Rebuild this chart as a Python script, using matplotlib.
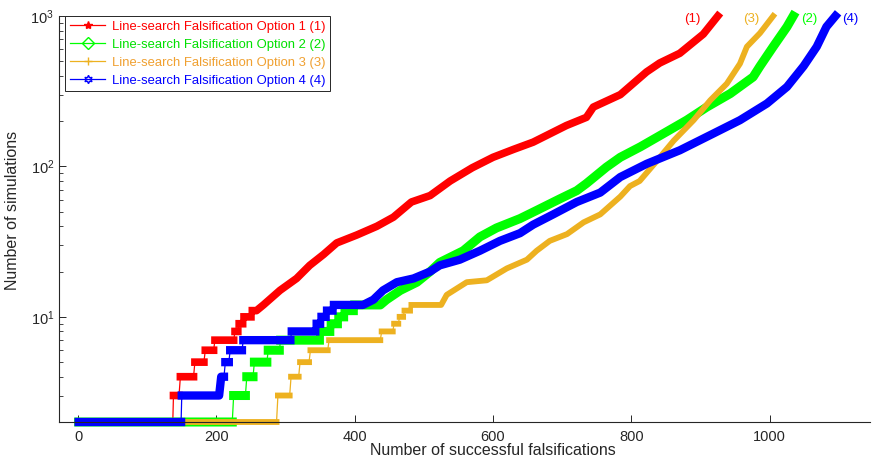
import numpy as np
import matplotlib
matplotlib.use('Agg')
import matplotlib.pyplot as plt
from matplotlib.lines import Line2D

plt.rcParams['font.family'] = ['Liberation Sans', 'DejaVu Sans']
plt.rcParams['mathtext.fontset'] = 'custom'
plt.rcParams['mathtext.rm'] = 'Liberation Sans'
plt.rcParams['mathtext.it'] = 'Liberation Sans:italic'

## data: (number of falsifications, number of simulations)
## low part given as start/end of each flat run, upper part as knots
x_opt1 = [1, 137, 138, 146, 148, 167, 169, 182, 184, 196, 198, 225, 227, 231, 233, 238, 240, 250, 252, 258,
          268, 292, 316, 335, 355, 374, 403, 432, 456, 482, 509, 538, 570, 600, 630, 658, 706, 735, 745,
          784, 822, 841, 870, 904, 925]
y_opt1 = [2, 2, 3, 3, 4, 4, 5, 5, 6, 6, 7, 7, 8, 8, 9, 9, 10, 10, 11, 11,
          12, 15, 18, 22, 26, 31, 35, 40, 46, 58, 64, 80, 98, 115, 130, 145, 187, 212, 248,
          300, 425, 487, 565, 758, 1000]

x_opt2 = [1, 223, 225, 242, 244, 253, 255, 273, 275, 291, 293, 349, 351, 364, 366, 375, 377, 384, 386, 398,
          400, 437, 446, 466, 490, 509, 523, 557, 581, 605, 639, 663, 697, 721, 735, 764, 784, 813, 846,
          880, 909, 943, 976, 986, 1005, 1025, 1034]
y_opt2 = [2, 2, 3, 3, 4, 4, 5, 5, 6, 6, 7, 7, 8, 8, 9, 9, 10, 10, 11, 11,
          12, 12, 13, 15, 17, 20, 23, 27.5, 34, 39, 45, 51, 61, 69, 77, 99, 115, 135, 165,
          203, 248, 305, 393, 464, 625, 848, 1000]

x_opt3 = [1, 287, 289, 306, 308, 319, 321, 334, 336, 361, 363, 437, 439, 455, 457, 463, 465, 470, 472, 480,
          482, 525, 533, 562, 591, 620, 649, 663, 682, 707, 731, 755, 784, 798, 812, 837, 861, 890,
          914, 938, 957, 967, 986, 1005]
y_opt3 = [2, 2, 3, 3, 4, 4, 5, 5, 6, 6, 7, 7, 8, 8, 9, 9, 10, 10, 11, 11,
          12, 12, 14, 17, 17.5, 21, 24, 27.5, 32, 35.5, 42.5, 48, 63, 74, 80, 109, 148, 203,
          275, 355, 482, 625, 770, 1000]

x_opt4 = [1, 149, 150, 204, 207, 211, 213, 218, 220, 237, 239, 307, 309, 343, 345, 350, 352, 358, 360, 368,
          370, 412, 427, 441, 461, 485, 509, 523, 552, 581, 610, 639, 658, 687, 721, 755, 784, 822,
          870, 918, 957, 996, 1025, 1049, 1068, 1082, 1095]
y_opt4 = [2, 2, 3, 3, 4, 4, 5, 5, 6, 6, 7, 7, 8, 8, 9, 9, 10, 10, 11, 11,
          12, 12, 13, 15, 17, 18, 20, 22, 24, 27.5, 32, 36, 41, 48, 58, 67, 85, 104,
          128, 165, 203, 262, 338, 464, 625, 848, 1000]

labels = ['Line-search Falsification Option 1 (1)', 'Line-search Falsification Option 2 (2)',
          'Line-search Falsification Option 3 (3)', 'Line-search Falsification Option 4 (4)']
tags = ['(1)', '(2)', '(3)', '(4)']
tag_x = [888, 1057, 974, 1116]

colors = ['#FF0000', '#00FF00', '#EDB120', '#0000FF']
text_colors = ['#FF0000', '#00E000', '#F0A030', '#0000FF']
markers = ['*', 'D', '+', (6, 1, 0)]
widths = [5.5, 6.5, 4.2, 6.0]

series = [(x_opt1, y_opt1), (x_opt2, y_opt2), (x_opt3, y_opt3), (x_opt4, y_opt4)]


def band(x, y):
    # thick part only along the flat / sloped stretches, not the jumps
    bx, by = [x[0]], [y[0]]
    for i in range(1, len(x)):
        if x[i] - x[i - 1] <= 2:
            bx.append(np.nan)
            by.append(np.nan)
        bx.append(x[i])
        by.append(y[i])
    return bx, by


fig = plt.figure(figsize=(8.72, 4.65), dpi=100)
ax = fig.add_axes([59 / 872, 1 - 422 / 465, (870 - 59) / 872, (422 - 16) / 465])

for (x, y), c, lw in zip(series, colors, widths):
    ax.plot(x, y, color=c, lw=0.9, clip_on=False)
    bx, by = band(x, y)
    ax.plot(bx, by, color=c, lw=lw, solid_capstyle='projecting', clip_on=False)

for (x, y), t, tx, c in zip(series, tags, tag_x, colors):
    ax.text(tx, 950, t, color=c, fontsize=9.5, ha='center', va='center')

ax.set_yscale('log')
ax.set_ylim(2, 1000)
ax.set_xlim(-27.5, 1145)
ax.set_xticks([0, 200, 400, 600, 800, 1000])

for s in ['top', 'right']:
    ax.spines[s].set_visible(False)
for s in ['left', 'bottom']:
    ax.spines[s].set_color('#262626')
    ax.spines[s].set_linewidth(0.8)
ax.tick_params(which='both', direction='in', colors='#262626', labelsize=10.5)
ax.tick_params(which='major', length=5, width=0.7)
ax.tick_params(which='minor', length=3, width=0.6)
ax.tick_params(axis='x', pad=6)

ax.set_xlabel('Number of successful falsifications', fontsize=11.5, color='#262626')
ax.xaxis.set_label_coords(0.535, -0.052)
ax.set_ylabel('Number of simulations', fontsize=11.5, color='#262626')
ax.yaxis.set_label_coords(-0.048, 0.52)

handles = []
for c, m, i in zip(colors, markers, range(4)):
    fc = c if i == 0 else 'none'
    handles.append(Line2D([], [], color=c, lw=0.9, marker=m, markersize=6,
                          markerfacecolor=fc, markeredgecolor=c))
leg = ax.legend(handles, labels, loc='upper left', bbox_to_anchor=(0.008, 1.0),
                fontsize=9.4, frameon=True, fancybox=False, framealpha=1,
                edgecolor='#262626', handlelength=2.7, handletextpad=0.5,
                labelspacing=0.45, borderpad=0.35, borderaxespad=0)
leg.get_frame().set_linewidth(0.7)
for txt, tc in zip(leg.get_texts(), text_colors):
    txt.set_color(tc)

fig.savefig('out.png', dpi=100)
